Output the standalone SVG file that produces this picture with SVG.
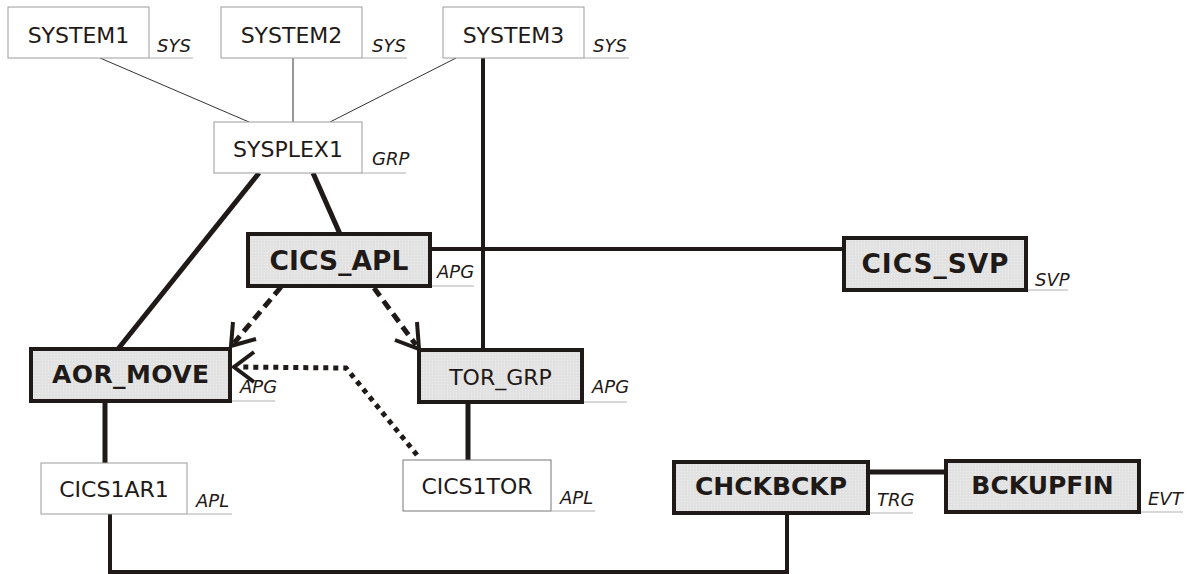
<svg xmlns="http://www.w3.org/2000/svg" width="1187" height="574" viewBox="0 0 1187 574">
<defs>
<pattern id="dots" width="3" height="3" patternUnits="userSpaceOnUse">
<rect width="3" height="3" fill="#e2e2e2"/>
<rect width="1" height="1" fill="#ececec"/>
</pattern>
</defs>
<style>
.thin{fill:#ffffff;stroke:#9c9c9c;stroke-width:1}
.thick{fill:url(#dots);stroke:#1f1a17;stroke-width:4}
.ul{stroke:#b0b0b0;stroke-width:1;fill:none}
.t{font-family:"DejaVu Sans",Verdana,sans-serif;font-size:22px;fill:#1f1a17;text-anchor:middle}
.b{font-family:"DejaVu Sans",Verdana,sans-serif;font-size:25px;font-weight:bold;fill:#1f1a17;text-anchor:middle}
.bl{font-size:26.5px}
.k{font-family:"DejaVu Sans",Verdana,sans-serif;font-size:18px;font-style:italic;fill:#1f1a17}
.c1{stroke:#333333;stroke-width:1;fill:none}
.c5{stroke:#1f1a17;stroke-width:5;fill:none}
.c4{stroke:#1f1a17;stroke-width:4;fill:none}
.dash{stroke:#1f1a17;stroke-width:5;fill:none;stroke-dasharray:10 6}
.dot{stroke:#1f1a17;stroke-width:5;fill:none;stroke-dasharray:5 5}
.head{stroke:#1f1a17;stroke-width:4;fill:none;stroke-linecap:butt;stroke-linejoin:miter}
</style>
<g id="connectors">
<line class="c1" x1="100" y1="58" x2="249" y2="122"/>
<line class="c1" x1="293" y1="58" x2="293" y2="122"/>
<line class="c1" x1="456" y1="58" x2="330" y2="122"/>
<line class="c4" x1="483" y1="58" x2="483" y2="350"/>
<line class="c5" x1="259" y1="173" x2="118" y2="349"/>
<line class="c5" x1="313" y1="173" x2="340" y2="234"/>
<line class="c4" x1="430" y1="249" x2="844" y2="249"/>
<line class="c5" x1="105" y1="401" x2="105" y2="463"/>
<line class="c5" x1="468" y1="402" x2="468" y2="460"/>
<polyline class="c4" points="110,514 110,572 787,572 787,513"/>
<line class="c5" x1="868" y1="472" x2="946" y2="472"/>
<line class="dash" x1="281" y1="287" x2="234" y2="343"/>
<polyline class="head" points="233,322 231,346 256,339"/>
<line class="dash" x1="374" y1="288" x2="416" y2="345"/>
<polyline class="head" points="417,322 419,349 395,340"/>
<polyline class="dot" points="417,455 346,368 240,367"/>
<polyline class="head" points="254,352 234,367 254,382"/>
</g>
<g id="SYSTEM1">
<rect class="thin" x="8" y="7" width="141" height="51"/>
<line class="ul" x1="149" y1="58" x2="193" y2="58"/>
<text class="t" x="78.5" y="43">SYSTEM1</text>
<text class="k" x="157" y="52">SYS</text>
</g>
<g id="SYSTEM2">
<rect class="thin" x="221" y="7" width="141" height="51"/>
<line class="ul" x1="362" y1="58" x2="407" y2="58"/>
<text class="t" x="291.5" y="43">SYSTEM2</text>
<text class="k" x="372" y="52">SYS</text>
</g>
<g id="SYSTEM3">
<rect class="thin" x="443" y="7" width="141" height="51"/>
<line class="ul" x1="584" y1="58" x2="629" y2="58"/>
<text class="t" x="513.5" y="43">SYSTEM3</text>
<text class="k" x="593" y="52">SYS</text>
</g>
<g id="SYSPLEX1">
<rect class="thin" x="214" y="122" width="148" height="51"/>
<line class="ul" x1="362" y1="173" x2="406" y2="173"/>
<text class="t" x="288" y="157">SYSPLEX1</text>
<text class="k" x="372" y="165">GRP</text>
</g>
<g id="CICS_APL">
<rect class="thick" x="248" y="234" width="182" height="52"/>
<line class="ul" x1="432" y1="286" x2="474" y2="286"/>
<text class="b bl" x="339" y="270" textLength="139">CICS_APL</text>
<text class="k" x="437" y="278">APG</text>
</g>
<g id="CICS_SVP">
<rect class="thick" x="844" y="238" width="182" height="52"/>
<line class="ul" x1="1028" y1="290" x2="1068" y2="290"/>
<text class="b bl" x="935" y="273" textLength="147">CICS_SVP</text>
<text class="k" x="1035" y="286">SVP</text>
</g>
<g id="AOR_MOVE">
<rect class="thick" x="31" y="349" width="199" height="52"/>
<line class="ul" x1="232" y1="401" x2="275" y2="401"/>
<text class="b" x="130.5" y="383" textLength="157">AOR_MOVE</text>
<text class="k" x="240" y="393">APG</text>
</g>
<g id="TOR_GRP">
<rect class="thick" x="419" y="350" width="163" height="52"/>
<line class="ul" x1="584" y1="402" x2="627" y2="402"/>
<text class="t" x="500.5" y="385">TOR_GRP</text>
<text class="k" x="592" y="393">APG</text>
</g>
<g id="CICS1AR1">
<rect class="thin" x="41" y="463" width="146" height="51"/>
<line class="ul" x1="187" y1="514" x2="232" y2="514"/>
<text class="t" x="114" y="497">CICS1AR1</text>
<text class="k" x="196" y="507">APL</text>
</g>
<g id="CICS1TOR">
<rect class="thin" x="403" y="460" width="148" height="51" style="stroke:#777777"/>
<line class="ul" x1="551" y1="511" x2="595" y2="511"/>
<text class="t" x="477" y="494">CICS1TOR</text>
<text class="k" x="560" y="504">APL</text>
</g>
<g id="CHCKBCKP">
<rect class="thick" x="674" y="462" width="194" height="51"/>
<line class="ul" x1="870" y1="513" x2="913" y2="513"/>
<text class="b" x="771" y="495">CHCKBCKP</text>
<text class="k" x="877" y="506">TRG</text>
</g>
<g id="BCKUPFIN">
<rect class="thick" x="946" y="461" width="193" height="51"/>
<line class="ul" x1="1141" y1="512" x2="1183" y2="512"/>
<text class="b" x="1042.5" y="494">BCKUPFIN</text>
<text class="k" x="1148" y="505">EVT</text>
</g>
</svg>
